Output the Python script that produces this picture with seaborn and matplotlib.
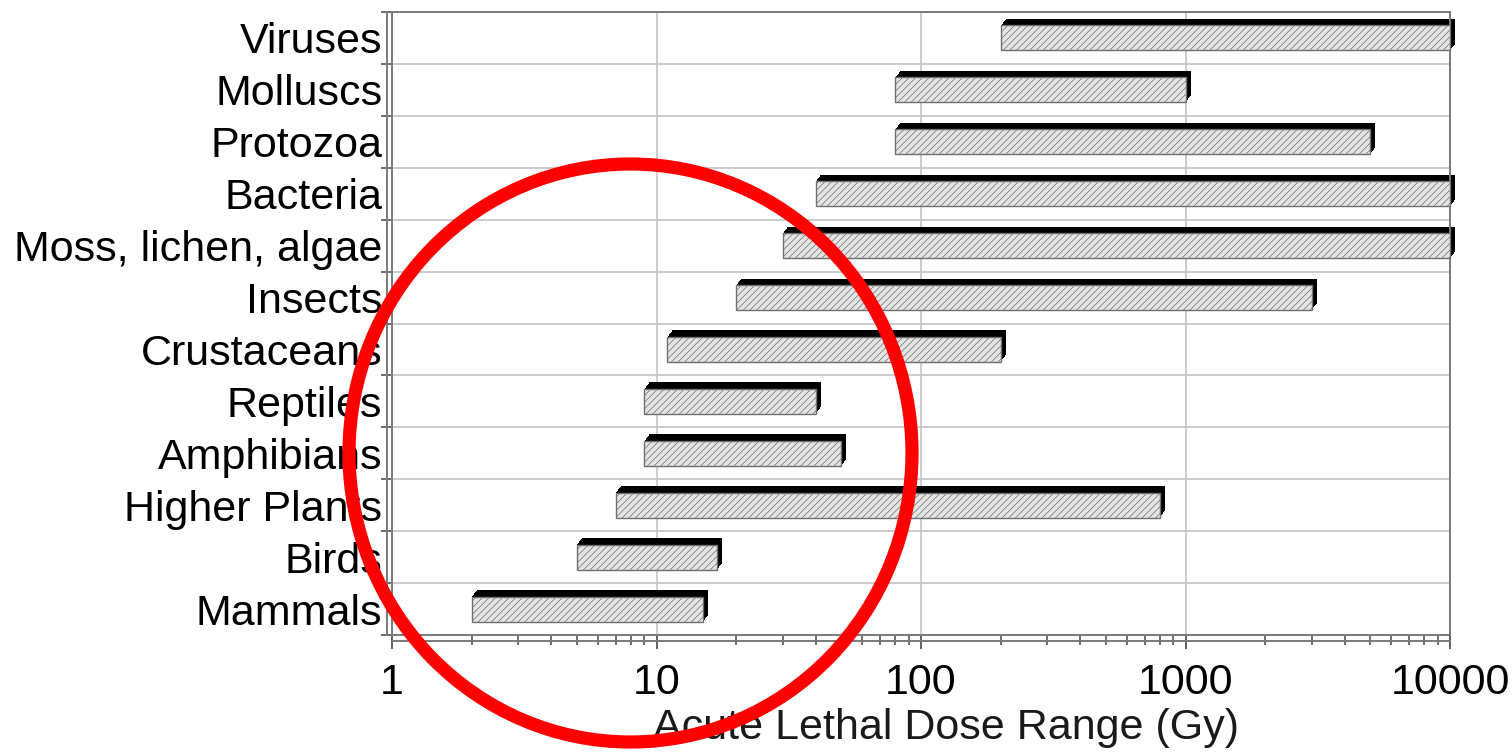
import numpy as np
import pandas as pd
import matplotlib
matplotlib.use("Agg")
import matplotlib.pyplot as plt
import matplotlib.transforms as mtransforms
from matplotlib.patches import Rectangle, Ellipse
from matplotlib.ticker import LogLocator, FixedLocator, NullFormatter
import seaborn as sns

groups = ["Viruses", "Molluscs", "Protozoa", "Bacteria", "Moss, lichen, algae",
          "Insects", "Crustaceans", "Reptiles", "Amphibians", "Higher Plants",
          "Birds", "Mammals"]
low_dose = [200, 80, 80, 40, 30, 20, 11, 9, 9, 7, 5, 2]
high_dose = [10000, 1000, 5000, 10000, 10000, 3000, 200, 40, 50, 800, 17, 15]
x_ticks = [1, 10, 100, 1000, 10000]
x_tick_labels = ["1", "10", "100", "1000", "10000"]

df = pd.DataFrame({"group": groups, "low": low_dose, "high": high_dose})

sns.set_theme(style="white")
plt.rcParams["font.family"] = ["Liberation Sans", "DejaVu Sans"]
plt.rcParams["hatch.linewidth"] = 0.5

DPI = 100
fig = plt.figure(figsize=(15.12, 7.55), dpi=DPI)
ax = fig.add_axes([392 / 1512, 1 - 635 / 755, (1450 - 392) / 1512, (635 - 12) / 755])

sns.barplot(data=df, y="group", x="high", orient="h", order=groups, width=0.48,
            color="#e4e4e4", saturation=1, edgecolor="#707070", linewidth=1.0,
            hatch="/////", ax=ax, zorder=3)

ax.set_xscale("log")
ax.set_xlim(1, 10000)
ax.set_ylim(len(groups) - 0.5, -0.5)

bars = list(ax.patches)
for p, lo, hi in zip(bars, low_dose, high_dose):
    p.set_x(lo)
    p.set_width(hi - lo)
    p.set_clip_on(False)

# 3D extrusion (black top and side faces)
dx_px, dy_px, steps = 5.0, 6.5, 10
for p in bars:
    for k in range(1, steps + 1):
        off = mtransforms.ScaledTranslation(dx_px * k / steps / DPI,
                                            dy_px * k / steps / DPI,
                                            fig.dpi_scale_trans)
        r = Rectangle((p.get_x(), p.get_y()), p.get_width(), p.get_height(),
                      transform=ax.transData + off, facecolor="black",
                      edgecolor="none", zorder=2.5, clip_on=False)
        ax.add_patch(r)

# grid lines
ax.xaxis.set_major_locator(FixedLocator(x_ticks))
ax.set_xticklabels(x_tick_labels)
ax.xaxis.set_minor_locator(LogLocator(base=10, subs=np.arange(2, 10)))
ax.xaxis.set_minor_formatter(NullFormatter())
ax.yaxis.set_minor_locator(FixedLocator(np.arange(-0.5, len(groups), 1.0)))
ax.grid(True, which="major", axis="x", color="#c4c4c4", linewidth=1.2, zorder=0)
ax.grid(True, which="minor", axis="y", color="#c4c4c4", linewidth=1.2, zorder=0)
ax.set_axisbelow(True)

for side in ["top", "right", "left", "bottom"]:
    ax.spines[side].set_color("#7a7a7a")
    ax.spines[side].set_linewidth(1.4)

# 3D wall/floor front edges
ax.plot([0, 0], [0, 1], transform=ax.transAxes + mtransforms.ScaledTranslation(-5 / DPI, 0, fig.dpi_scale_trans),
        color="#7a7a7a", lw=1.4, clip_on=False)
ax.plot([0, 1], [0, 0], transform=ax.transAxes + mtransforms.ScaledTranslation(0, -6 / DPI, fig.dpi_scale_trans),
        color="#7a7a7a", lw=1.4, clip_on=False)

ax.tick_params(axis="x", which="major", direction="out", length=10, width=1.3,
               colors="#555555", labelcolor="black", labelsize=31, pad=10, bottom=True)
ax.tick_params(axis="x", which="minor", direction="out", length=7, width=1.2,
               colors="#555555", bottom=True)
ax.tick_params(axis="y", which="major", length=0, labelsize=31, pad=7, labelcolor="black", left=True)
ax.tick_params(axis="y", which="minor", direction="out", length=8, width=1.2,
               colors="#555555", left=True)

ax.set_ylabel("")
ax.set_xlabel("Acute Lethal Dose Range (Gy)", fontsize=31, color="#1a1a1a", labelpad=4,
              x=(946 - 392) / 1058)

# red annotation circle
fig.patches.append(Ellipse((630.5 / 1512, 1 - 453 / 755), 563 / 1512, 578 / 755,
                           transform=fig.transFigure, fill=False,
                           edgecolor="#ff0000", linewidth=9.5, zorder=10))

fig.savefig("out.png", dpi=DPI)
